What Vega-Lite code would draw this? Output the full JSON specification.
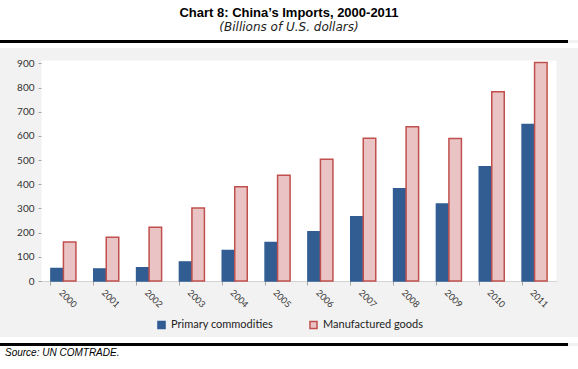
{
  "$schema": "https://vega.github.io/schema/vega-lite/v6.json",
  "background": "#f2f2f2",
  "padding": 0,
  "spacing": 0,
  "align": "none",
  "center": true,
  "resolve": {"scale": {"fill": "independent", "stroke": "independent"}},
  "config": {"view": {"stroke": null}, "font": "Lato", "legend": {"layout": {"bottom": {"anchor": "middle"}}}},
  "datasets": {
    "imports": [
      {"year": "2000", "series": "Primary commodities", "value": 52},
      {"year": "2001", "series": "Primary commodities", "value": 50},
      {"year": "2002", "series": "Primary commodities", "value": 55},
      {"year": "2003", "series": "Primary commodities", "value": 79},
      {"year": "2004", "series": "Primary commodities", "value": 126},
      {"year": "2005", "series": "Primary commodities", "value": 159},
      {"year": "2006", "series": "Primary commodities", "value": 204},
      {"year": "2007", "series": "Primary commodities", "value": 266},
      {"year": "2008", "series": "Primary commodities", "value": 382},
      {"year": "2009", "series": "Primary commodities", "value": 318},
      {"year": "2010", "series": "Primary commodities", "value": 473},
      {"year": "2011", "series": "Primary commodities", "value": 647},
      {"year": "2000", "series": "Manufactured goods", "value": 161},
      {"year": "2001", "series": "Manufactured goods", "value": 181},
      {"year": "2002", "series": "Manufactured goods", "value": 222},
      {"year": "2003", "series": "Manufactured goods", "value": 302},
      {"year": "2004", "series": "Manufactured goods", "value": 390},
      {"year": "2005", "series": "Manufactured goods", "value": 437},
      {"year": "2006", "series": "Manufactured goods", "value": 504},
      {"year": "2007", "series": "Manufactured goods", "value": 590},
      {"year": "2008", "series": "Manufactured goods", "value": 638},
      {"year": "2009", "series": "Manufactured goods", "value": 589},
      {"year": "2010", "series": "Manufactured goods", "value": 783},
      {"year": "2011", "series": "Manufactured goods", "value": 904}
    ]
  },
  "vconcat": [
    {
      "width": 578, "height": 40,
      "view": {"fill": "white", "stroke": null},
      "data": {"values": [{"row": "title", "t": "Chart 8: China’s Imports, 2000-2011"}, {"row": "subtitle", "t": "(Billions of U.S. dollars)"}]},
      "encoding": {
        "y": {"field": "row", "type": "nominal", "sort": ["title", "subtitle"], "scale": {"type": "point", "padding": 0.85}, "axis": null},
        "text": {"field": "t"}
      },
      "layer": [
        {"transform": [{"filter": "datum.row === 'title'"}], "mark": {"type": "text", "baseline": "middle", "font": "Liberation Sans", "fontSize": 13, "fontWeight": "bold", "color": "#000000"}},
        {"transform": [{"filter": "datum.row === 'subtitle'"}], "mark": {"type": "text", "baseline": "middle", "font": "DejaVu Sans", "fontSize": 12, "fontStyle": "italic", "color": "#222222"}}
      ]
    },
    {
      "width": 568, "height": 3,
      "view": {"fill": "#000000", "stroke": null},
      "data": {"values": []},
      "mark": "rule",
      "encoding": {}
    },
    {
      "width": 578, "height": 5,
      "view": {"fill": "white", "stroke": null},
      "data": {"values": []},
      "mark": "rule",
      "encoding": {}
    },
    {
      "width": 578, "height": 10,
      "data": {"values": []},
      "mark": "rule",
      "encoding": {}
    },
    {
      "width": 578, "height": 220,
      "view": {"fill": null, "stroke": null},
      "data": {"name": "imports"},
      "encoding": {
        "x": {
          "field": "year", "type": "nominal",
          "scale": {"range": [42, 556], "paddingInner": 0.416, "paddingOuter": 0.208},
          "axis": {"title": null, "labelAngle": 45, "labelAlign": "left", "labelBaseline": "top", "bandPosition": 0,
            "domainColor": "#a6a6a6", "tickColor": "#a6a6a6", "tickSize": 4,
            "labelFont": "Lato", "labelFontSize": 9, "labelColor": "#333333", "labelPadding": 3}
        },
        "y": {
          "field": "value", "type": "quantitative",
          "scale": {"domain": [0, 910], "nice": false},
          "axis": {"title": null, "values": [0, 100, 200, 300, 400, 500, 600, 700, 800, 900], "grid": false, "offset": -42,
            "domainColor": "#a6a6a6", "tickColor": "#a6a6a6", "tickSize": 4,
            "labelFont": "Lato", "labelFontSize": 10, "labelColor": "#333333", "labelPadding": 4}
        }
      },
      "layer": [
        {
          "transform": [{"filter": "datum.series === 'Primary commodities'"}],
          "mark": {"type": "bar", "fill": "white", "stroke": "white", "strokeWidth": 1, "width": {"band": 1.7123}},
          "encoding": {
            "y": {"datum": 910, "type": "quantitative"},
            "y2": {"datum": 0}
          }
        },
        {
          "mark": {"type": "bar", "strokeWidth": 1.5},
          "encoding": {
            "xOffset": {"field": "series", "type": "nominal", "sort": ["Primary commodities", "Manufactured goods"], "scale": {"paddingInner": 0, "paddingOuter": 0}},
            "fill": {
              "field": "series", "type": "nominal",
              "scale": {"domain": ["Primary commodities", "Manufactured goods"], "range": ["#315d93", "#eac4c4"]},
              "legend": {"title": null, "orient": "bottom", "direction": "horizontal", "symbolType": "square", "symbolSize": 50,
                "labelFont": "Lato", "labelFontSize": 11, "labelColor": "#222222", "columnPadding": 32, "offset": 9}
            },
            "stroke": {
              "field": "series", "type": "nominal",
              "scale": {"domain": ["Primary commodities", "Manufactured goods"], "range": ["#315d93", "#c0504d"]},
              "legend": {"title": null, "orient": "bottom", "direction": "horizontal", "symbolType": "square", "symbolSize": 50,
                "labelFont": "Lato", "labelFontSize": 11, "labelColor": "#222222", "columnPadding": 32, "offset": 9}
            }
          }
        }
      ]
    },
    {
      "width": 578, "height": 5,
      "data": {"values": []},
      "mark": "rule",
      "encoding": {}
    },
    {
      "width": 578, "height": 6,
      "view": {"fill": "white", "stroke": null},
      "data": {"values": []},
      "mark": "rule",
      "encoding": {}
    },
    {
      "width": 568, "height": 3,
      "view": {"fill": "#000000", "stroke": null},
      "data": {"values": []},
      "mark": "rule",
      "encoding": {}
    },
    {
      "width": 578, "height": 14,
      "view": {"fill": "white", "stroke": null},
      "data": {"values": [{"t": "Source: UN COMTRADE."}]},
      "mark": {"type": "text", "align": "left", "baseline": "middle", "x": 5, "font": "Liberation Sans", "fontSize": 10, "fontStyle": "italic", "color": "#000000"},
      "encoding": {"text": {"field": "t"}}
    }
  ]
}
